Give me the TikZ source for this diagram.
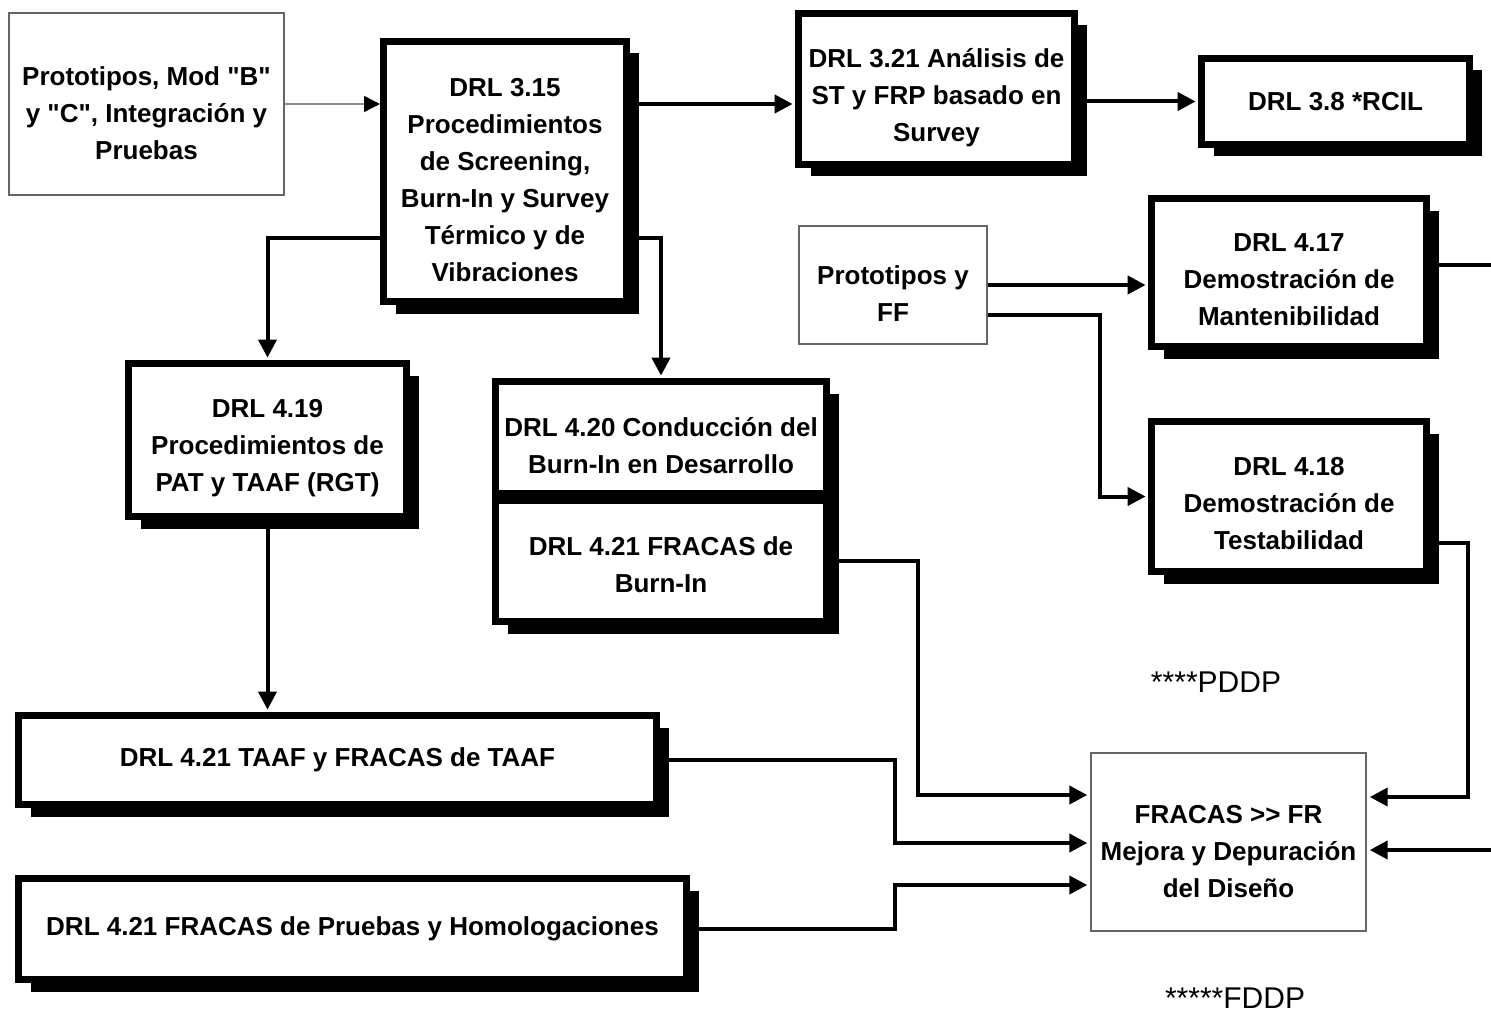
\documentclass[tikz,border=0pt]{standalone}
\usepackage{fontspec}
\setmainfont{Liberation Sans}[Ligatures=TeXOff]
\usetikzlibrary{shadows,calc,arrows.meta}

\newcommand\boxfont{\fontsize{13}{18.5}\selectfont\bfseries}
\newcommand\notefont{\fontsize{15}{18}\selectfont}

\tikzset{
  thickbox/.style={draw=black, line width=3.5pt, fill=white, align=center,
    inner sep=0pt, font=\boxfont,
    drop shadow={shadow xshift=6pt, shadow yshift=-6pt, fill=black, opacity=1}},
  flatbox/.style={draw=black, line width=3.5pt, fill=white, align=center,
    inner sep=0pt, font=\boxfont},
  thinbox/.style={draw=black!60, line width=1.3pt, fill=white, align=center,
    inner sep=0pt, font=\boxfont},
  boxtext/.style={align=center, inner sep=0pt, font=\boxfont},
  link/.style={line width=2pt, shorten >=1.2pt,
    -{Triangle[length=9pt,width=9pt]}},
  thinlink/.style={draw=black!45, line width=0.7pt,
    -{Triangle[length=8pt,width=8pt,color=black]}},
  wire/.style={line width=2pt},
  note/.style={font=\notefont, inner sep=0pt},
}

\begin{document}
\begin{tikzpicture}[x=0.5pt,y=-0.5pt]
\useasboundingbox[fill=white] (0,0) rectangle (1491,1016);

% ---- boxes (frames) ----
\node[thinbox, minimum width=137.5pt, minimum height=91pt] (A) at (146.5,104) {};
\node[thickbox, minimum width=121.5pt, minimum height=130pt] (B) at (505,171.5) {};
\node[thickbox, minimum width=138pt, minimum height=75.5pt] (C) at (936.5,89) {};
\node[thickbox, minimum width=134pt, minimum height=43pt] (D) at (1335.5,101.5)
  {DRL 3.8 *RCIL};
\node[thinbox, minimum width=94pt, minimum height=59pt] (E) at (893,285) {};
\node[thickbox, minimum width=137.5pt, minimum height=74pt] (F) at (1289,272.5) {};
\node[thickbox, minimum width=137.5pt, minimum height=75pt] (G) at (1289,496.5) {};
\node[thickbox, minimum width=139pt, minimum height=76.5pt] (H) at (267.5,440) {};
% two-part box with a common shadow
\node[thickbox, minimum width=165.5pt, minimum height=120pt] (Iall) at (661,501.5) {};
\node[flatbox, minimum width=165.5pt, minimum height=56pt] (I1) at (661,437.5) {};
\node[flatbox, minimum width=165.5pt, minimum height=60.5pt] (I2) at (661,561) {};
\node[thickbox, minimum width=319pt, minimum height=44.5pt] (J) at (337.5,760)
  {DRL 4.21 TAAF y FRACAS de TAAF};
\node[thickbox, minimum width=334pt, minimum height=50.5pt] (K) at (352.5,929)
  {DRL 4.21 FRACAS de Pruebas y Homologaciones};
\node[thinbox, minimum width=137.5pt, minimum height=89pt] (L) at (1228.5,842) {};

% ---- box texts (set a little below the frame centres) ----
\node[boxtext] (At) at ($(A.center)+(0,9)$)
  {Prototipos, Mod "B"\\y "C", Integración y\\Pruebas};
\node[boxtext] (Bt) at ($(B.center)+(0,9)$)
  {DRL 3.15\\Procedimientos\\de Screening,\\Burn-In y Survey\\Térmico y de\\Vibraciones};
\node[boxtext] (Ct) at ($(C.center)+(0,9)$)
  {DRL 3.21 Análisis de\\ST y FRP basado en\\Survey};
\node[boxtext] (Et) at ($(E.center)+(0,9)$) {Prototipos y\\FF};
\node[boxtext] (Ft) at ($(F.center)+(0,7)$)
  {DRL 4.17\\Demostración de\\Mantenibilidad};
\node[boxtext] (Gt) at ($(G.center)+(0,7)$)
  {DRL 4.18\\Demostración de\\Testabilidad};
\node[boxtext] (Ht) at ($(H.center)+(0,8)$)
  {DRL 4.19\\Procedimientos de\\PAT y TAAF (RGT)};
\node[boxtext] (I1t) at ($(I1.center)+(0,8)$)
  {DRL 4.20 Conducción del\\Burn-In en Desarrollo};
\node[boxtext] (I2t) at ($(I2.center)+(0,4)$)
  {DRL 4.21 FRACAS de\\Burn-In};
\node[boxtext] (Lt) at ($(L.center)+(0,10)$)
  {FRACAS >> FR\\Mejora y Depuración\\del Diseño};

\node[note] (pddp) at (1216,682) {****PDDP};
\node[note] (fddp) at (1235,998) {*****FDDP};

% ---- connectors ----
\draw[thinlink] (A.east) -- (A.east -| B.west);
\draw[link] (A.east -| B.east) -- (A.east -| C.west);
\draw[link] (C.east |- D.west) -- (D.west);
\draw[link] ($(B.west)+(0,66.5)$) -| (H.north);
\draw[link] ($(B.east)+(0,66.5)$) -| (I1.north);
\draw[link] (H.south) -- (H.south |- J.north);
\draw[link] (E.east) -- (E.east -| F.west);

\coordinate (eg) at (1100,0);
\draw[link] ($(E.east)+(0,30)$) -| (eg |- G.west) -- (G.west);

\coordinate (fout) at (1491,265);
\draw[wire] (F.east |- fout) -- (fout);

\coordinate (gl) at (1468,0);
\coordinate (Lr1) at ($(L.east)+(0,-45)$);
\draw[link] ($(G.east)+(0,46.5)$) -| (gl |- Lr1) -- (Lr1);

\coordinate (rin) at (1491,850);
\draw[link] (rin) -- (rin -| L.east);

\coordinate (c1) at (918,0);
\coordinate (c2) at (895,0);
\coordinate (Ll1) at ($(L.west)+(0,-47)$);
\coordinate (Ll2) at ($(L.west)+(0,1)$);
\coordinate (Ll3) at ($(L.west)+(0,43)$);
\draw[link] (I2.east) -| (c1 |- Ll1) -- (Ll1);
\draw[link] (J.east) -| (c2 |- Ll2) -- (Ll2);
\draw[link] (K.east) -| (c2 |- Ll3) -- (Ll3);
\end{tikzpicture}
\end{document}
